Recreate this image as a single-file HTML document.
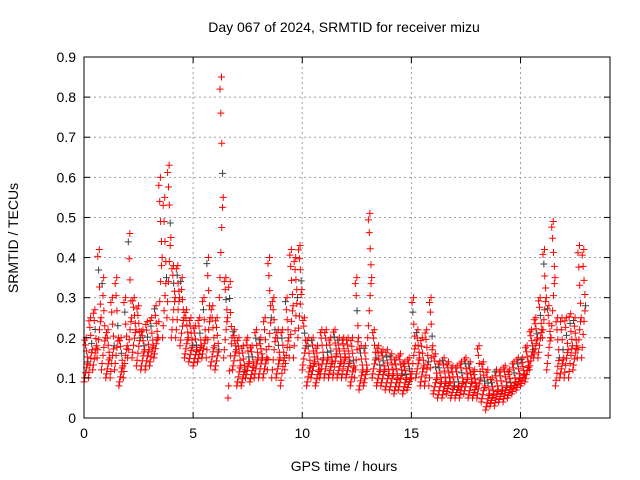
<!DOCTYPE html>
<html><head><meta charset="utf-8"><style>
body{margin:0;background:#fff}
svg{display:block;font-family:"Liberation Sans","DejaVu Sans",sans-serif}
</style></head><body>
<svg id="chart" width="640" height="480" viewBox="0 0 640 480">
<rect width="640" height="480" fill="#fff"/>
<text x="344" y="32" font-size="14" text-anchor="middle">Day 067 of 2024, SRMTID for receiver mizu</text>
<text x="344" y="471" font-size="14" text-anchor="middle">GPS time / hours</text>
<text x="18" y="238" font-size="14" text-anchor="middle" transform="rotate(-90 18 238)">SRMTID / TECUs</text>
<g id="grid"></g><g id="marks"></g><g id="axes"></g>
</svg>
<script>
const xTicks=[0,5,10,15,20];
const yTicks=[0,0.1,0.2,0.3,0.4,0.5,0.6,0.7,0.8,0.9];
const tStart=0, tStep=0.2;
const lo=[.09,.1,.12,.15,.12,.1,.1,.12,.08,.1, .15,.15,.13,.12,.12,.13,.15,.2,.2,.25, .2,.2,.18,.15,.14,.13,.14,.15,.15,.13, .12,.3,.15,.05,.12,.08,.08,.1,.09,.1, .1,.1,.12,.1,.1,.08,.12,.15,.15,.2, .12,.08,.1,.08,.1,.1,.1,.1,.1,.1, .1,.08,.1,.07,.08,.2,.1,.08,.08,.07, .07,.06,.07,.06,.07,.1,.1,.08,.08,.08, .06,.05,.05,.06,.05,.05,.05,.06,.05,.05, .05,.04,.02,.03,.03,.04,.04,.05,.06,.07, .08,.09,.12,.15,.15,.2,.12,.2,.08,.1, .1,.1,.12,.15,.15];
const mid=[.14,.17,.18,.25,.2,.15,.18,.2,.13,.18, .25,.22,.2,.17,.17,.18,.2,.4,.35,.45, .3,.3,.25,.2,.18,.17,.18,.2,.25,.18, .17,.55,.25,.2,.17,.13,.12,.14,.13,.15, .15,.15,.25,.2,.15,.15,.2,.28,.3,.32, .18,.13,.14,.12,.15,.15,.14,.16,.14,.15, .14,.13,.2,.12,.12,.35,.15,.12,.12,.11, .11,.1,.11,.1,.1,.18,.15,.13,.14,.18, .1,.09,.09,.09,.08,.08,.09,.1,.09,.08, .1,.08,.06,.06,.07,.07,.08,.08,.09,.1, .11,.13,.17,.2,.22,.3,.2,.35,.15,.15, .17,.18,.18,.25,.28];
const hi=[.2,.25,.27,.42,.35,.22,.3,.35,.2,.3, .46,.3,.28,.22,.24,.25,.28,.6,.55,.63, .38,.38,.35,.27,.25,.23,.25,.3,.4,.28, .25,.85,.35,.34,.22,.2,.18,.2,.18,.22, .2,.25,.4,.3,.22,.22,.3,.42,.4,.43, .25,.2,.2,.18,.22,.22,.2,.22,.2,.2, .2,.2,.35,.18,.18,.51,.22,.18,.17,.17, .16,.15,.16,.14,.15,.3,.22,.2,.22,.3, .16,.14,.15,.14,.13,.13,.14,.15,.14,.12, .18,.14,.12,.1,.12,.12,.13,.12,.14,.15, .15,.18,.22,.25,.3,.42,.28,.49,.25,.25, .25,.26,.25,.43,.42];
const X0=84,X1=610,Y0=418,Y1=57,XMAX=24.1,YMAX=0.9;
const xs=v=>X0+(v/XMAX)*(X1-X0);
const ys=v=>Y0-(v/YMAX)*(Y0-Y1);
const NS='http://www.w3.org/2000/svg';
const grid=document.getElementById('grid'),marks=document.getElementById('marks'),axes=document.getElementById('axes');
function mk(tag,at,p){const e=document.createElementNS(NS,tag);for(const k in at)e.setAttribute(k,at[k]);p.appendChild(e);return e;}
xTicks.forEach(t=>{const x=xs(t);
 const g=mk('line',{x1:x,x2:x,y1:Y1,y2:Y0,stroke:'#a0a0a0','stroke-dasharray':'2,3','stroke-width':1},grid);
 
 
 mk('line',{x1:x,x2:x,y1:Y0,y2:Y0-6,stroke:'#000'},axes);
 mk('line',{x1:x,x2:x,y1:Y1,y2:Y1+6,stroke:'#000'},axes);
 const l=mk('text',{x:x,y:Y0+20,'font-size':14,'text-anchor':'middle'},axes);l.textContent=t;
 
 
});
yTicks.forEach(t=>{const y=ys(t);
 const g=mk('line',{x1:X0,x2:X1,y1:y,y2:y,stroke:'#a0a0a0','stroke-dasharray':'2,3','stroke-width':1},grid);
 
 
 mk('line',{x1:X0,x2:X0+6,y1:y,y2:y,stroke:'#000'},axes);
 mk('line',{x1:X1,x2:X1-6,y1:y,y2:y,stroke:'#000'},axes);
 const l=mk('text',{x:X0-8,y:y+5,'font-size':14,'text-anchor':'end'},axes);l.textContent=+t.toFixed(1);
 
 
});
const fr=mk('rect',{x:X0,y:Y1,width:X1-X0,height:Y0-Y1,fill:'none',stroke:'#000'},axes);


function plus(t,v,col){const x=xs(t),y=ys(v);
 const p=mk('path',{d:`M${x-3.5},${y}h7M${x},${y-3.5}v7`,stroke:col,'stroke-width':1,fill:'none'},marks);
 
 }
const n=Math.min(lo.length,mid.length,hi.length);
const fr1=[0,0.2,0.45,0.7,0.9], dx1=[0,0.03,0.07,0.11,0.15];
for(let i=0;i<n;i++){const t=tStart+i*tStep;
 fr1.forEach((f,j)=>{
  plus(t+dx1[j],lo[i]+(mid[i]-lo[i])*f,'#ff0000');
  plus(t+0.18-dx1[j],mid[i]+(hi[i]-mid[i])*f,(i%6==j)?'#404040':'#ff0000');
 });
 plus(t+0.1,hi[i],'#ff0000');
}
</script>
</body></html>
